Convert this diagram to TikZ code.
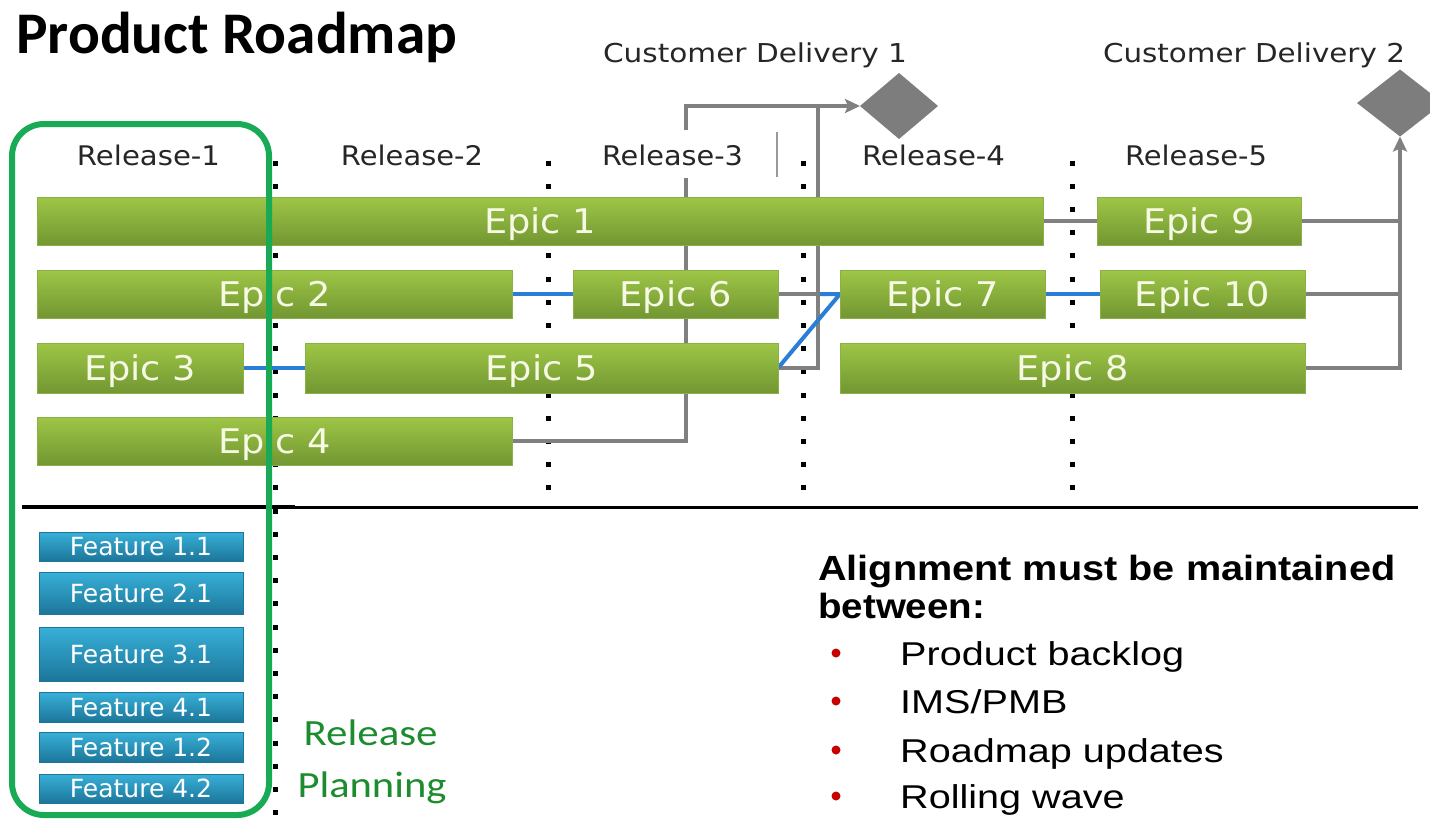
\documentclass[tikz,border=0pt]{standalone}
\usepackage{fontspec}
\usepackage{graphicx}
\usetikzlibrary{shapes.geometric,arrows.meta}
\newfontfamily\verdfont{DejaVu Sans}
\newfontfamily\califont{Carlito}
\newfontfamily\arialfont{Liberation Sans}
\definecolor{epicTop}{RGB}{158,198,70}
\definecolor{epicBot}{RGB}{114,150,50}
\definecolor{epicEdge}{RGB}{140,175,70}
\definecolor{epicText}{RGB}{246,249,228}
\definecolor{featTop}{RGB}{56,176,216}
\definecolor{featBot}{RGB}{28,118,154}
\definecolor{frameGreen}{RGB}{24,170,84}
\definecolor{planGreen}{RGB}{28,140,46}
\definecolor{linkBlue}{RGB}{42,126,214}
\definecolor{linkGray}{RGB}{128,128,128}
\definecolor{mileGray}{RGB}{125,125,125}
\definecolor{bulletRed}{RGB}{200,0,0}
\pgfdeclarelayer{bg}
\pgfsetlayers{bg,main}
\newcommand{\epictext}[1]{\scalebox{1.08}[1]{#1}}
\tikzset{
  epicbar/.style={rectangle, inner sep=0pt, outer sep=0pt,
    top color=epicTop, bottom color=epicBot, draw=epicEdge, line width=0.6pt,
    text=epicText, font=\verdfont\fontsize{34}{40}\selectfont,
    text height=25pt, text depth=0pt, minimum height=48pt},
  featbar/.style={rectangle, inner sep=0pt, outer sep=0pt,
    top color=featTop, bottom color=featBot, draw=featBot, line width=0.6pt,
    text=white, font=\verdfont\fontsize{25}{30}\selectfont,
    text height=18pt, text depth=0pt, minimum width=204pt},
  rellabel/.style={anchor=base, inner sep=0pt,
    font=\verdfont\fontsize{27}{32}\selectfont, text=black!85,
    text height=35pt, text depth=13pt},
  custlabel/.style={anchor=base, inner sep=0pt,
    font=\verdfont\fontsize{26}{30}\selectfont, text=black!85},
  milestone/.style={diamond, fill=mileGray, inner sep=0pt, outer sep=0pt},
  dotline/.style={line width=5pt, dash pattern=on 5pt off 18.2pt},
  grayline/.style={draw=linkGray, line width=4pt},
  blueline/.style={draw=linkBlue, line width=4pt},
  tip/.style={-{Stealth[length=15pt,width=14pt,inset=3pt]}},
  planlabel/.style={anchor=base, inner sep=0pt, text=planGreen,
    font=\califont\fontsize{37}{44}\selectfont},
  bullettext/.style={anchor=base west, inner sep=0pt,
    font=\arialfont\fontsize{33}{38}\selectfont},
  bulletdot/.style={circle, fill=bulletRed, inner sep=0pt, minimum size=9pt}
}
\begin{document}
\begin{tikzpicture}[x=1pt,y=-1pt]
\useasboundingbox (0,0) rectangle (1430,820);
\clip (0,0) rectangle (1430,820);

% title
\node[anchor=base west, inner sep=0pt, font=\califont\bfseries\fontsize{59}{64}\selectfont]
  (title) at (16,53) {\resizebox{441pt}{\height}{Product Roadmap}};

% release headings (Release-3 masks the delivery line behind it)
\node[rellabel] (r1) at (148.5,165) {\resizebox{143pt}{\height}{Release-1}};
\node[rellabel] (r2) at (412,165) {\resizebox{142pt}{\height}{Release-2}};
\node[rellabel, fill=white] (r3) at (672.5,165) {\resizebox{141pt}{\height}{Release-3}};
\node[rellabel] (r4) at (933.5,165) {\resizebox{143pt}{\height}{Release-4}};
\node[rellabel] (r5) at (1196,165) {\resizebox{142pt}{\height}{Release-5}};
\draw[black!40, line width=1.5pt] (777,132) -- (777,177);

% milestones
\node[custlabel] (cd1) at (755,62) {\resizebox{304pt}{\height}{Customer Delivery 1}};
\node[custlabel] (cd2) at (1254,62) {\resizebox{302pt}{\height}{Customer Delivery 2}};
\node[milestone, minimum width=78pt, minimum height=66pt] (d1) at (899,106) {};
\node[milestone, minimum width=86pt, minimum height=67pt] (d2) at (1400,103) {};

% epics
\node[epicbar, minimum width=1006pt] (e1) at (540,221) {\epictext{Epic 1}};
\node[epicbar, minimum width=204pt] (e9) at (1199,221) {\epictext{Epic 9}};
\node[epicbar, minimum width=475pt] (e2) at (274.5,294) {\epictext{Epic 2}};
\node[epicbar, minimum width=205pt] (e6) at (675.5,294) {\epictext{Epic 6}};
\node[epicbar, minimum width=205pt] (e7) at (942.5,294) {\epictext{Epic 7}};
\node[epicbar, minimum width=205pt] (e10) at (1202.5,294) {\epictext{Epic 10}};
\node[epicbar, minimum width=206pt, minimum height=50pt] (e3) at (140,368) {\epictext{Epic 3}};
\node[epicbar, minimum width=473pt, minimum height=50pt] (e5) at (541.5,368) {\epictext{Epic 5}};
\node[epicbar, minimum width=465pt, minimum height=50pt] (e8) at (1072.5,368) {\epictext{Epic 8}};
\node[epicbar, minimum width=475pt] (e4) at (274.5,441) {\epictext{Epic 4}};

% features
\node[featbar, minimum height=29pt] (f11) at (141,546.5) {Feature 1.1};
\node[featbar, minimum height=42pt] (f21) at (141,593) {Feature 2.1};
\node[featbar, minimum height=54pt] (f31) at (141,654) {Feature 3.1};
\node[featbar, minimum height=30pt] (f41) at (141,707) {Feature 4.1};
\node[featbar, minimum height=30pt] (f12) at (141,747) {Feature 1.2};
\node[featbar, minimum height=29pt] (f42) at (141,788.5) {Feature 4.2};

% release planning note
\node[planlabel] (rp1) at (370.5,745) {\scalebox{1.16}[1]{Release}};
\node[planlabel] (rp2) at (372,797) {\scalebox{1.15}[1]{Planning}};

% alignment note
\node[anchor=base west, inner sep=0pt, font=\arialfont\bfseries\fontsize{35}{40}\selectfont]
  (al1) at (818,580) {\resizebox{577pt}{\height}{Alignment must be maintained}};
\node[anchor=base west, inner sep=0pt, font=\arialfont\bfseries\fontsize{35}{40}\selectfont]
  (al2) at (818,618) {\resizebox{167pt}{\height}{between:}};
\node[bullettext] (b1) at (900,665) {\scalebox{1.2}[1]{Product backlog}};
\node[bullettext] (b2) at (900,713) {\scalebox{1.2}[1]{IMS/PMB}};
\node[bullettext] (b3) at (900,762) {\scalebox{1.2}[1]{Roadmap updates}};
\node[bullettext] (b4) at (900,808) {\scalebox{1.2}[1]{Rolling wave}};
\node[bulletdot] (p1) at (836,653) {};
\node[bulletdot] (p2) at (836,701) {};
\node[bulletdot] (p3) at (836,750) {};
\node[bulletdot] (p4) at (836,796) {};

% release-1 frame
\draw[frameGreen, line width=6pt, rounded corners=32pt] (12,124) rectangle (269,815);

\coordinate (tl) at (686,106);
\coordinate (tr) at (818,106);
\coordinate (rv) at (1400,0);
\coordinate (b7) at (820,294);

\begin{pgfonlayer}{bg}
  % release boundaries
  \draw[dotline] (275.5,160.5) -- (275.5,820);
  \draw[dotline] (548,160.5) -- (548,492);
  \draw[dotline] (803,160.5) -- (803,492);
  \draw[dotline] (1072,160.5) -- (1072,492);
  % divider
  \draw[line width=3pt] (22,507) -- (1418,507);
  \draw[line width=4pt] (22,507) -- (295,507);
  % delivery links
  \draw[grayline, tip] (e4.east) -| (tl) -- (d1.west);
  \draw[grayline] (e5.east) -| (tr);
  \draw[grayline] (e6.east) -- (e6.east -| tr);
  \draw[grayline] (e1.east) -- (e9.west);
  \draw[grayline] (e9.east) -- (e9.east -| rv);
  \draw[grayline] (e10.east) -- (e10.east -| rv);
  \draw[grayline, tip] (e8.east) -| (d2.south);
  % dependencies
  \draw[blueline] (e2.east) -- (e6.west);
  \draw[blueline] (e3.east) -- (e5.west);
  \draw[blueline] (e7.east) -- (e10.west);
  \draw[blueline] (b7) -- (e7.west) -- (e5.east);
\end{pgfonlayer}
\end{tikzpicture}
\end{document}
